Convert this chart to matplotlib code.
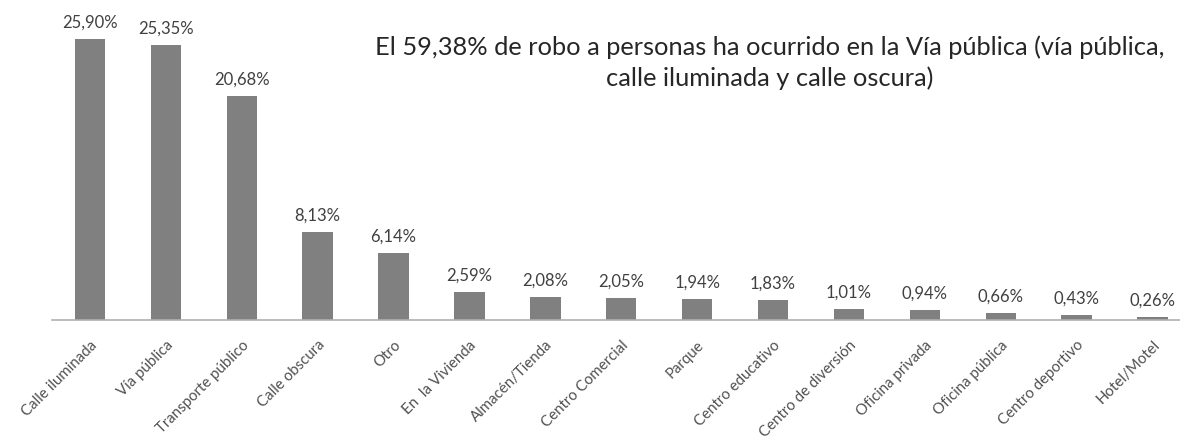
import matplotlib
matplotlib.use('Agg')
import matplotlib.pyplot as plt
import numpy as np

categories = ['Calle iluminada', 'Vía pública', 'Transporte público', 'Calle obscura', 'Otro',
              'En  la Vivienda', 'Almacén/Tienda', 'Centro Comercial', 'Parque', 'Centro educativo',
              'Centro de diversión', 'Oficina privada', 'Oficina pública', 'Centro deportivo', 'Hotel/Motel']
values = [25.90, 25.35, 20.68, 8.13, 6.14, 2.59, 2.08, 2.05, 1.94, 1.83, 1.01, 0.94, 0.66, 0.43, 0.26]
labels = ['25,90%', '25,35%', '20,68%', '8,13%', '6,14%', '2,59%', '2,08%', '2,05%', '1,94%', '1,83%',
          '1,01%', '0,94%', '0,66%', '0,43%', '0,26%']
title = 'El 59,38% de robo a personas ha ocurrido en la Vía pública (vía pública,\ncalle iluminada y calle oscura)'

plt.rcParams['font.family'] = ['Lato', 'DejaVu Sans']

W, H = 1180, 442
fig = plt.figure(figsize=(W / 100, H / 100), dpi=100)
# axis line at y=320 px, x from 52 px; 75.9 px per category
left, bottom = 52 / W, 1 - 320 / H
ax = fig.add_axes([left, bottom, 15 * 75.9 / W, 28 * 10.84 / H])

x = np.arange(len(categories))
ax.bar(x, values, width=0.4, color='#808080')
for xi, v, lab in zip(x, values, labels):
    ax.annotate(lab, (xi, v), xytext=(0, 6), textcoords='offset points',
                ha='center', va='bottom', fontsize=12, color='#404040')

ax.set_xlim(-0.5, 14.5)
ax.set_ylim(0, 28)
ax.set_yticks([])
ax.set_xticks(x)
ax.set_xticklabels(categories, rotation=45, ha='right', rotation_mode='anchor',
                   fontsize=10.8, color='#505050')
ax.tick_params(axis='x', length=0, pad=13)
for s in ('top', 'right', 'left'):
    ax.spines[s].set_visible(False)
ax.spines['bottom'].set_color('#b0b0b0')
ax.spines['bottom'].set_linewidth(1.2)

fig.text(770 / W, 1 - 63 / H, title, ha='center', va='center', fontsize=18.3,
         color='#262626', linespacing=1.38)

fig.savefig('out.png', dpi=100)
